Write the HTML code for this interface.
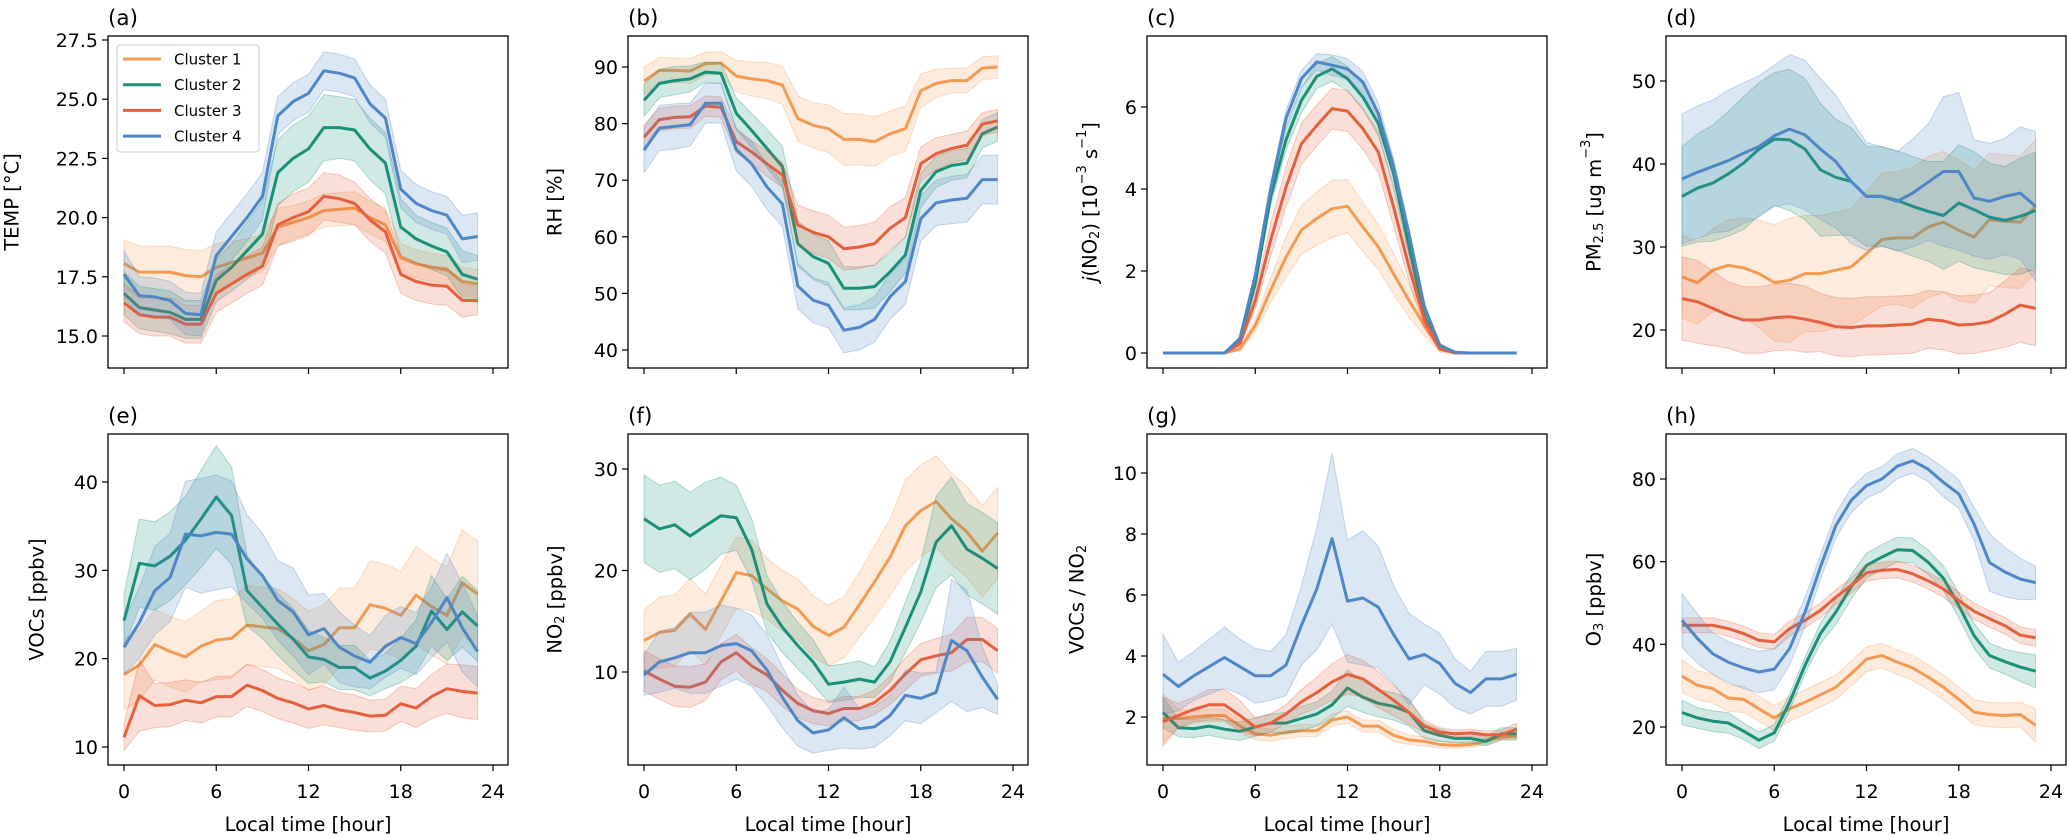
<!DOCTYPE html>
<html><head><meta charset="utf-8">
<style>
html,body{margin:0;padding:0;background:#fff;}
svg{display:block;font-family:"DejaVu Sans","Liberation Sans",sans-serif;}
</style></head>
<body>
<svg id="fig" width="2067" height="839" viewBox="0 0 2067 839" xmlns="http://www.w3.org/2000/svg"></svg>
<script>
// ---- data (hours 0..23) ----
const hours=[0,1,2,3,4,5,6,7,8,9,10,11,12,13,14,15,16,17,18,19,20,21,22,23];
const seriesNames=["Cluster 1","Cluster 2","Cluster 3","Cluster 4"];
// (a) TEMP
const a_c1=[18.06,17.7,17.7,17.7,17.55,17.5,17.9,18.1,18.3,18.5,19.6,19.8,20.0,20.3,20.35,20.4,20.0,19.7,18.3,18.05,17.9,17.8,17.3,17.2];
const a_c2=[16.8,16.2,16.1,16.0,15.7,15.7,17.35,17.9,18.6,19.3,21.9,22.5,22.9,23.8,23.8,23.7,22.9,22.3,19.6,19.1,18.8,18.55,17.6,17.4];
const a_c3=[16.4,15.9,15.8,15.8,15.5,15.5,16.8,17.2,17.6,17.95,19.7,20.0,20.25,20.9,20.8,20.6,19.9,19.4,17.6,17.3,17.15,17.1,16.5,16.5];
const a_c4=[17.6,16.7,16.65,16.5,15.95,15.9,18.4,19.2,20.0,20.9,24.3,24.9,25.25,26.2,26.1,25.9,24.8,24.2,21.2,20.6,20.3,20.1,19.1,19.2];
const a_h1=[1.0,1.1,1.1,1.1,1.1,1.1,1.0,0.9,0.8,0.8,0.8,0.7,0.7,0.7,0.7,0.7,0.7,0.7,0.6,0.6,0.6,0.6,0.6,0.6];
const a_h2=[0.9,0.9,0.9,0.9,0.8,0.8,0.9,1.0,1.2,1.4,1.4,1.4,1.4,1.4,1.3,1.3,1.3,1.3,1.2,1.0,1.0,1.0,1.0,1.0];
const a_h3=[0.8,0.8,0.8,0.8,0.8,0.8,0.8,0.8,0.8,0.8,0.9,1.0,1.0,1.0,1.0,0.9,0.9,0.9,0.8,0.8,0.8,0.8,0.7,0.6];
const a_h4=[1.0,0.8,0.8,0.8,0.9,0.9,1.0,1.0,1.0,1.0,0.8,0.8,0.8,0.8,0.8,0.8,0.8,0.8,0.8,0.8,0.8,0.8,1.0,1.0];
// (b) RH
const b_c1=[87.5,89.4,89.4,89.3,90.6,90.7,88.4,87.9,87.6,86.8,80.9,79.7,79.1,77.2,77.2,76.8,78.2,79.1,85.8,87.1,87.6,87.6,89.8,90.0];
const b_c2=[84.1,87.1,87.6,87.9,89.1,88.9,81.8,78.8,75.6,72.4,58.8,56.5,55.3,50.9,50.9,51.2,53.8,56.8,68.2,71.5,72.6,73.0,78.2,79.4];
const b_c3=[77.6,80.7,81.1,81.2,83.1,82.9,76.8,75.0,72.9,70.9,62.1,60.8,60.0,57.9,58.2,58.8,61.5,63.4,72.9,74.7,75.6,76.2,79.9,80.5];
const b_c4=[75.3,79.2,79.5,79.8,83.6,83.6,75.4,72.9,68.8,65.8,51.3,48.8,47.9,43.5,44.0,45.4,49.4,52.1,63.2,66.0,66.5,66.8,70.1,70.1];
const b_h1=[2.5,2.3,2.2,2.2,2.0,2.0,2.8,3.0,3.2,3.4,4.0,4.0,4.2,4.6,4.5,4.4,4.0,4.0,3.0,2.5,2.2,2.2,2.0,2.0];
const b_h2=[2.8,2.5,2.5,2.3,1.8,1.8,2.8,3.0,3.4,3.6,4.0,4.0,4.0,3.8,3.8,3.8,3.5,3.2,3.0,2.8,2.6,2.6,2.5,2.5];
const b_h3=[2.2,2.0,2.0,2.0,1.8,1.8,2.0,2.0,2.2,2.2,3.5,3.8,3.8,3.8,3.8,3.8,3.8,3.5,3.0,2.8,2.5,2.5,2.0,2.0];
const b_h4=[4.0,4.0,4.0,3.8,3.5,3.5,3.8,4.0,4.0,4.0,4.0,4.0,4.0,4.0,4.0,4.0,4.0,4.0,4.0,4.0,4.2,4.2,4.3,4.3];
// (c) jNO2
const c_c1=[0,0,0,0,0,0.1,0.67,1.53,2.34,3.0,3.28,3.52,3.58,3.07,2.59,1.93,1.28,0.67,0.1,0,0,0,0,0];
const c_c2=[0,0,0,0,0,0.3,1.7,3.8,5.2,6.16,6.75,6.93,6.69,6.24,5.6,4.37,2.6,0.88,0.15,0,0,0,0,0];
const c_c3=[0,0,0,0,0,0.23,1.28,2.75,4.05,5.1,5.55,5.96,5.9,5.47,4.9,3.56,2.1,0.8,0.1,0,0,0,0,0];
const c_c4=[0,0,0,0,0,0.35,1.9,4.0,5.72,6.69,7.1,7.02,6.93,6.61,5.84,4.54,2.9,1.12,0.19,0.02,0,0,0,0];
const c_h1=[0,0,0,0,0,0.05,0.15,0.3,0.5,0.6,0.65,0.7,0.65,0.6,0.55,0.5,0.4,0.25,0.08,0,0,0,0,0];
const c_h2=[0,0,0,0,0,0.05,0.1,0.2,0.25,0.3,0.3,0.3,0.3,0.3,0.3,0.3,0.25,0.15,0.05,0,0,0,0,0];
const c_h3=[0,0,0,0,0,0.05,0.2,0.4,0.5,0.5,0.5,0.5,0.5,0.5,0.5,0.45,0.35,0.2,0.05,0,0,0,0,0];
const c_h4=[0,0,0,0,0,0.05,0.1,0.15,0.2,0.2,0.2,0.25,0.25,0.25,0.25,0.2,0.15,0.1,0.05,0,0,0,0,0];
// (d) PM2.5
const d_c1=[26.4,25.7,27.2,27.8,27.5,26.8,25.7,26.0,26.8,26.8,27.2,27.6,29.2,30.9,31.1,31.1,32.4,33.0,32.0,31.2,33.3,33.1,33.0,34.9];
const d_c2=[36.1,37.1,37.7,38.8,40.1,41.8,43.0,42.9,41.8,39.3,38.4,37.9,36.1,36.1,35.6,34.9,34.3,33.8,35.3,34.5,33.6,33.2,33.7,34.4];
const d_c3=[23.8,23.4,22.6,21.8,21.2,21.2,21.5,21.6,21.3,20.9,20.4,20.3,20.5,20.5,20.6,20.7,21.3,21.1,20.6,20.7,21.0,21.9,23.0,22.6];
const d_c4=[38.2,39.0,39.7,40.4,41.3,42.1,43.4,44.2,43.5,41.8,40.3,37.9,36.1,36.1,35.5,36.5,37.8,39.1,39.1,35.9,35.5,36.1,36.5,34.9];
const d_h1=[5,5,5,5.5,6,6.5,7,7.5,7,7,7,7,7.5,8,8,8.5,8.5,8.5,8.5,8,8,8,8,8];
const d_h2=[6,6.5,7,7.5,8,8,8,8.5,8.5,8,7,6.5,6,6,6,6,6,6.5,7,7,6.5,6.5,7,7];
const d_h3=[5,5,4.5,4,4,4,4,4,4,3.5,3.5,3.5,3.5,3.5,3.5,3.5,3.5,3.5,3.5,3.5,3.5,4,4.5,4.5];
const d_h4=[7.8,8,8,8.5,8.5,8.5,8.5,9,9,8.5,8,7.5,6.5,6,6,6.5,7,9,9.5,7,7,7,8,9];
// (e) VOCs
const e_c1=[18.2,19.3,21.6,20.8,20.2,21.4,22.1,22.3,23.8,23.6,23.4,22.3,20.9,21.6,23.5,23.5,26.1,25.7,24.9,27.2,25.9,24.9,28.6,27.3];
const e_c2=[24.3,30.8,30.5,31.6,33.4,35.8,38.3,36.2,27.7,25.8,23.9,22.2,20.2,19.9,19.0,19.0,17.8,18.6,19.8,21.4,25.4,23.3,25.3,23.7];
const e_c3=[11.1,15.8,14.7,14.8,15.3,15.0,15.7,15.7,17.0,16.4,15.5,15.0,14.3,14.7,14.2,13.9,13.5,13.6,14.9,14.4,15.7,16.6,16.3,16.1];
const e_c4=[21.3,24.1,27.7,29.2,34.1,33.9,34.3,34.1,31.3,29.4,26.6,25.3,22.7,23.4,21.3,20.3,19.6,21.4,22.4,21.7,24.1,26.9,23.5,20.8];
const e_h1=[4,4,4,4,4,4,4.5,4.5,4.5,4.5,4.5,4.5,4.5,4.5,4.5,4.5,5,5,5,5.5,5.5,5.5,6,6];
const e_h2=[3,5,5,5,5,5.5,5.8,5.5,4,3.5,3.5,3.5,3,2.5,2.5,2.5,2,2,2.5,3,4,3.5,4,4];
const e_h3=[1.5,4,2.5,2.5,2.3,2.3,2.3,2.3,2.4,2.4,2.3,2.3,2.2,2.2,2.0,2.0,1.8,1.8,2.0,2.2,2.5,2.8,3,3];
const e_h4=[3,4,5,5,6,6.5,6.5,6,5,4.8,4.5,5,4.5,4,4,3.5,3,3.5,3.5,3.5,4,5,5,4];
// (f) NO2
const f_c1=[13.1,13.9,14.1,15.7,14.2,17.0,19.8,19.5,18.2,17.0,16.2,14.5,13.6,14.4,16.6,18.9,21.3,24.4,25.9,26.8,25.1,23.8,21.9,23.7];
const f_c2=[25.1,24.1,24.5,23.4,24.4,25.4,25.2,22.1,16.7,14.4,12.6,11.0,8.8,9.0,9.3,9.0,11.0,14.4,17.9,22.8,24.4,22.1,21.2,20.2];
const f_c3=[10.1,9.3,8.6,8.5,9.0,11.0,11.9,10.6,9.7,8.2,6.9,6.2,5.9,6.4,6.4,7.0,8.2,9.8,11.2,11.6,11.9,13.2,13.2,12.1];
const f_c4=[9.7,11.0,11.4,11.9,11.9,12.6,12.8,12.1,10.2,7.5,5.2,4.0,4.3,5.5,4.4,4.6,5.7,7.7,7.4,8.0,13.1,12.1,9.5,7.3];
const f_h1=[3,3.5,3.5,3.5,3.5,3.5,3.5,3.5,3,3,3,3,3,3,3.2,3.5,3.8,4.5,4.5,4.5,4.5,4.5,4.5,4.5];
const f_h2=[4.3,4.3,4.3,4.3,4.3,3.8,3.2,3,2.8,2.5,2.3,2.2,1.8,1.8,1.8,1.5,2,2.5,3,4.5,4.8,4.5,4.5,4.5];
const f_h3=[2,2,2,2,1.8,1.8,1.8,1.8,1.6,1.6,1.4,1.3,1.2,1.2,1.2,1.2,1.4,1.6,1.6,1.7,1.8,2.2,2.2,2.2];
const f_h4=[2,3,3,4,4,4,3.5,3.5,3.5,3,2.5,2,2,3,2,2,2,2.5,2.5,2,6,6,3,1.5];
// (g) VOCs/NO2
const g_c1=[1.95,1.95,2.0,2.05,2.05,1.7,1.45,1.4,1.5,1.55,1.55,1.9,2.0,1.7,1.7,1.4,1.25,1.2,1.1,1.07,1.1,1.2,1.35,1.35];
const g_c2=[2.15,1.65,1.62,1.7,1.6,1.53,1.67,1.8,1.8,1.95,2.1,2.4,2.95,2.65,2.45,2.35,2.15,1.55,1.4,1.3,1.3,1.2,1.45,1.45];
const g_c3=[1.85,2.05,2.25,2.4,2.4,2.05,1.67,1.8,2.1,2.5,2.8,3.15,3.4,3.25,2.9,2.55,2.15,1.7,1.5,1.45,1.48,1.42,1.42,1.6];
const g_c4=[3.4,3.0,3.35,3.65,3.95,3.65,3.35,3.35,3.7,5.0,6.2,7.85,5.8,5.9,5.6,4.7,3.9,4.05,3.75,3.1,2.8,3.25,3.25,3.4];
const g_h1=[0.8,0.3,0.2,0.2,0.2,0.2,0.2,0.2,0.2,0.2,0.2,0.2,0.2,0.2,0.2,0.2,0.15,0.15,0.12,0.1,0.1,0.1,0.1,0.1];
const g_h2=[0.5,0.3,0.3,0.3,0.3,0.3,0.3,0.3,0.35,0.4,0.4,0.45,0.6,0.5,0.45,0.45,0.45,0.25,0.2,0.15,0.15,0.15,0.2,0.2];
const g_h3=[0.8,0.4,0.4,0.5,0.5,0.5,0.3,0.3,0.3,0.4,0.5,0.6,0.65,0.6,0.6,0.5,0.4,0.2,0.15,0.12,0.12,0.12,0.15,0.2];
const g_h4=[1.3,0.8,0.8,0.9,1.0,0.9,0.9,0.8,1.0,1.3,2.0,2.8,2.0,2.2,2.0,1.6,1.5,1.0,1.0,0.8,0.7,0.9,0.9,0.85];
// (h) O3
const h_c1=[32.3,30.1,29.3,27.0,26.7,24.4,22.2,24.4,26.0,27.8,29.6,32.9,36.4,37.3,35.7,34.3,32.1,29.6,26.7,23.6,23.0,22.8,23.0,20.4];
const h_c2=[23.5,22.2,21.4,21.0,19.0,16.8,18.6,26.0,34.9,42.6,47.8,53.9,59.1,61.1,62.9,62.7,59.9,56.0,49.4,42.1,37.3,35.8,34.5,33.5];
const h_c3=[44.6,44.6,44.6,43.8,42.6,41.0,40.6,43.8,45.8,48.2,51.4,54.2,57.3,57.9,58.1,57.1,55.4,53.4,50.6,48.0,46.2,44.5,42.2,41.6];
const h_c4=[45.8,41.4,37.7,35.7,34.3,33.3,34.0,39.0,47.8,58.7,68.7,74.8,78.4,80.0,83.1,84.4,82.4,79.2,76.4,69.1,59.8,57.5,55.8,54.9];
const h_h1=[4,3.5,3.5,3.2,3.2,3,3,3,3,3,3,3,3,3,3,3,3,3,3,3,3,3,3,4];
const h_h2=[3,2.5,2.5,2.5,2,2,2,2,2,2.5,3,3,3,3,3,3,3,3,3,3,3,3,3.5,4];
const h_h3=[1.8,1.8,1.8,1.8,1.8,1.8,1.8,1.8,1.8,1.8,1.8,1.8,2,2,2,2,2,2,2,2,2,2,2,2];
const h_h4=[6.5,6,5,5,5,5,5,4,3.5,3,3,3,3,3,3,3,3,3.5,3.5,4,7,6,5,4];
// tick labels
const xTicks=[0,6,12,18,24];
const a_ticks=[15,17.5,20,22.5,25,27.5];
const b_ticks=[40,50,60,70,80,90];
const c_ticks=[0,2,4,6];
const d_ticks=[20,30,40,50];
const e_ticks=[10,20,30,40];
const f_ticks=[10,20,30];
const g_ticks=[2,4,6,8,10];
const h_ticks=[20,40,60,80];

const colors=["#f39b53","#1a9078","#e5603e","#4e86c6"];
const NS="http://www.w3.org/2000/svg";
const svg=document.getElementById("fig");
function el(tag,attrs,parent){const e=document.createElementNS(NS,tag);for(const k in attrs)e.setAttribute(k,attrs[k]);(parent||svg).appendChild(e);return e;}

const panels=[
 {id:"a",L:108,T:36,B:368,v1:27.5,p1:40,v2:15,p2:336,ticks:a_ticks,fmt:v=>v.toFixed(1),series:[a_c1,a_c2,a_c3,a_c4],hw:[a_h1,a_h2,a_h3,a_h4],ylab:'TEMP [°C]',yoff:-96,xl:false},
 {id:"b",L:628,T:36,B:368,v1:90,p1:67,v2:40,p2:350,ticks:b_ticks,fmt:v=>String(v),series:[b_c1,b_c2,b_c3,b_c4],hw:[b_h1,b_h2,b_h3,b_h4],ylab:'RH [%]',yoff:-73,xl:false},
 {id:"c",L:1147,T:36,B:368,v1:6,p1:107,v2:0,p2:353,ticks:c_ticks,fmt:v=>String(v),series:[c_c1,c_c2,c_c3,c_c4],hw:[c_h1,c_h2,c_h3,c_h4],ylab:'<tspan font-style="italic">j</tspan>(NO<tspan font-size="13" dy="5">2</tspan><tspan dy="-5">) [10</tspan><tspan font-size="13" dy="-8">−3</tspan><tspan dy="8"> s</tspan><tspan font-size="13" dy="-8">−1</tspan><tspan dy="8">]</tspan>',yoff:-57,xl:false},
 {id:"d",L:1666,T:36,B:368,v1:50,p1:81,v2:20,p2:330,ticks:d_ticks,fmt:v=>String(v),series:[d_c1,d_c2,d_c3,d_c4],hw:[d_h1,d_h2,d_h3,d_h4],ylab:'PM<tspan font-size="13" dy="5">2.5</tspan><tspan dy="-5"> [ug m</tspan><tspan font-size="13" dy="-8">−3</tspan><tspan dy="8">]</tspan>',yoff:-72,xl:false},
 {id:"e",L:108,T:434,B:765,v1:40,p1:482,v2:10,p2:747,ticks:e_ticks,fmt:v=>String(v),series:[e_c1,e_c2,e_c3,e_c4],hw:[e_h1,e_h2,e_h3,e_h4],ylab:'VOCs [ppbv]',yoff:-71,xl:true},
 {id:"f",L:628,T:434,B:765,v1:30,p1:469,v2:10,p2:672,ticks:f_ticks,fmt:v=>String(v),series:[f_c1,f_c2,f_c3,f_c4],hw:[f_h1,f_h2,f_h3,f_h4],ylab:'NO<tspan font-size="13" dy="5">2</tspan><tspan dy="-5"> [ppbv]</tspan>',yoff:-73,xl:true},
 {id:"g",L:1147,T:434,B:765,v1:10,p1:473,v2:2,p2:717,ticks:g_ticks,fmt:v=>String(v),series:[g_c1,g_c2,g_c3,g_c4],hw:[g_h1,g_h2,g_h3,g_h4],ylab:'VOCs / NO<tspan font-size="13" dy="5">2</tspan>',yoff:-70,xl:true},
 {id:"h",L:1666,T:434,B:765,v1:80,p1:479,v2:20,p2:727,ticks:h_ticks,fmt:v=>String(v),series:[h_c1,h_c2,h_c3,h_c4],hw:[h_h1,h_h2,h_h3,h_h4],ylab:'O<tspan font-size="13" dy="5">3</tspan><tspan dy="-5"> [ppbv]</tspan>',yoff:-72,xl:true}
];
const W=400;
panels.forEach(P=>{
  const g=el("g",{});
  
  
  const xs=h=>P.L+16+h*369/24;
  const ys=v=>P.p2+(v-P.v2)*(P.p1-P.p2)/(P.v1-P.v2);
  const clipId="clip"+P.id;
  const cp=el("clipPath",{id:clipId},g);el("rect",{x:P.L,y:P.T,width:W,height:P.B-P.T},cp);
  const plot=el("g",{"clip-path":"url(#"+clipId+")"},g);
  P.series.forEach((s,i)=>{
    const hw=P.hw[i];
    const up=hours.map((h,k)=>xs(h).toFixed(1)+","+ys(s[k]+hw[k]).toFixed(1));
    const lo=hours.map((h,k)=>xs(h).toFixed(1)+","+ys(s[k]-hw[k]).toFixed(1)).reverse();
    const band=el("polygon",{points:up.concat(lo).join(" "),fill:colors[i],"fill-opacity":0.2,stroke:colors[i],"stroke-opacity":0.3,"stroke-width":1},plot);
    
    
    const line=el("polyline",{points:hours.map((h,k)=>xs(h).toFixed(1)+","+ys(s[k]).toFixed(1)).join(" "),fill:"none",stroke:colors[i],"stroke-width":3,"stroke-linejoin":"round"},plot);
    
    
  });
  const fr=el("rect",{x:P.L,y:P.T,width:W,height:P.B-P.T,fill:"none",stroke:"#000","stroke-width":1.3},g);
  
  
  P.ticks.forEach(v=>{
    const y=ys(v);
    el("line",{x1:P.L-6,x2:P.L,y1:y,y2:y,stroke:"#000","stroke-width":1.2},g);
    const t=el("text",{x:P.L-10,y:y+7,"text-anchor":"end","font-size":19,fill:"#000"},g);
    t.textContent=P.fmt(v);
    
    
  });
  xTicks.forEach(v=>{
    const x=xs(v);
    el("line",{x1:x,x2:x,y1:P.B,y2:P.B+6,stroke:"#000","stroke-width":1.2},g);
    if(P.xl){const t=el("text",{x:x,y:P.B+33,"text-anchor":"middle","font-size":19,fill:"#000"},g);t.textContent=String(v);
      
      }
  });
  if(P.xl){const t=el("text",{x:P.L+W/2,y:831,"text-anchor":"middle","font-size":19.5,fill:"#000"},g);t.textContent="Local time [hour]";
    
    }
  const cy=(P.T+P.B)/2, cx=P.L+P.yoff;
  const yl=el("text",{x:cx,y:cy,"text-anchor":"middle","dominant-baseline":"central","font-size":19.5,fill:"#000",transform:"rotate(-90 "+cx+" "+cy+")"},g);
  yl.innerHTML=P.ylab;
  
  
  const pl=el("text",{x:P.L,y:P.T-11,"font-size":21.5,fill:"#000"},g);
  pl.textContent="("+P.id+")";
  
  
});
// legend
const lg=el("g",{});


el("rect",{x:117,y:45,width:142,height:107,rx:3,fill:"#fff","fill-opacity":0.8,stroke:"#cccccc","stroke-width":1},lg);
seriesNames.forEach((n,i)=>{
  const y=59+i*25.7;
  const ln=el("line",{x1:123,x2:161,y1:y,y2:y,stroke:colors[i],"stroke-width":3},lg);
  
  
  const t=el("text",{x:174,y:y+5.5,"font-size":15,fill:"#000"},lg);
  t.textContent=n;
  
  
});
</script>
</body></html>
